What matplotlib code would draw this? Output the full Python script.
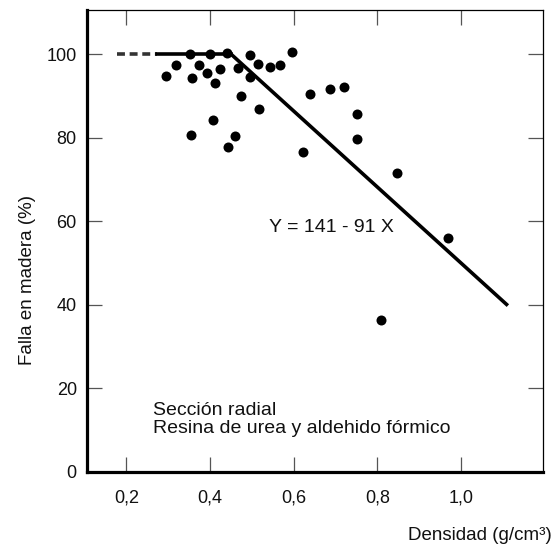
import matplotlib
matplotlib.use('Agg')
import matplotlib.pyplot as plt

plt.rcParams['font.family'] = ['Liberation Sans', 'DejaVu Sans']

# densidad (g/cm3) vs falla en madera (%)
dens = [0.296, 0.319, 0.353, 0.357, 0.354, 0.374, 0.393, 0.400, 0.407, 0.413,
        0.424, 0.440, 0.443, 0.459, 0.468, 0.475, 0.495, 0.495, 0.516, 0.518,
        0.544, 0.568, 0.597, 0.623, 0.639, 0.687, 0.721, 0.752, 0.752, 0.808,
        0.847, 0.970]
falla = [94.8, 97.4, 100.0, 94.2, 80.6, 97.4, 95.5, 100.0, 84.2, 93.0,
         96.4, 100.3, 77.7, 80.4, 96.8, 90.0, 99.8, 94.6, 97.6, 86.9,
         97.0, 97.4, 100.5, 76.5, 90.5, 91.7, 92.1, 85.7, 79.8, 36.4,
         71.6, 56.1]

# ajuste: meseta 100% y recta Y = 141 - 91 X
x_dash = [0.178, 0.274]
x_flat = [0.274, 0.45]
x_slope = [0.45, 1.109]
a, b = 141, -91

xticks = [0.2, 0.4, 0.6, 0.8, 1.0]
xticklabels = ['0,2', '0,4', '0,6', '0,8', '1,0']
yticks = [0, 20, 40, 60, 80, 100]

fig = plt.figure(figsize=(5.55, 5.46), dpi=100)
ax = fig.add_axes([0.156, 0.136, 0.8215, 0.845])

ax.plot(x_dash, [100, 100], color='#333333', lw=2.6, ls=(0, (2.2, 1.3)), solid_capstyle='butt')
ax.plot(x_flat, [100, 100], color='black', lw=2.6)
ax.plot(x_slope, [a + b * x for x in x_slope], color='black', lw=2.6)
ax.plot(dens, falla, 'o', color='black', ms=7.2, mec='none')

ax.set_xlim(0.105, 1.195)
ax.set_ylim(0, 110.5)
ax.set_xticks(xticks)
ax.set_xticklabels(xticklabels)
ax.set_yticks(yticks)
ax.tick_params(direction='in', length=10.5, width=0.9, color='#555555',
               top=True, right=True, labelsize=13, labelcolor='#111111')
ax.tick_params(axis='x', pad=12.5)
ax.tick_params(axis='y', pad=7)

for s in ['left', 'bottom']:
    ax.spines[s].set_linewidth(2.3)
for s in ['top', 'right']:
    ax.spines[s].set_linewidth(0.9)

ax.text(0.541, 58.4, 'Y = 141 - 91 X', fontsize=14, ha='left', va='center', color='#111111')
ax.text(0.264, 12.5, 'Sección radial\nResina de urea y aldehido fórmico', fontsize=14,
        ha='left', va='center', linespacing=1.1, color='#111111')

fig.text(0.995, 0.02, 'Densidad (g/cm³)', fontsize=13.5, ha='right', va='center', color='#111111')
fig.text(0.05, 1 - 280 / 546, 'Falla en madera (%)', fontsize=13.5, rotation=90,
         ha='center', va='center', color='#111111')

fig.savefig('out.png', dpi=100, facecolor='white')
